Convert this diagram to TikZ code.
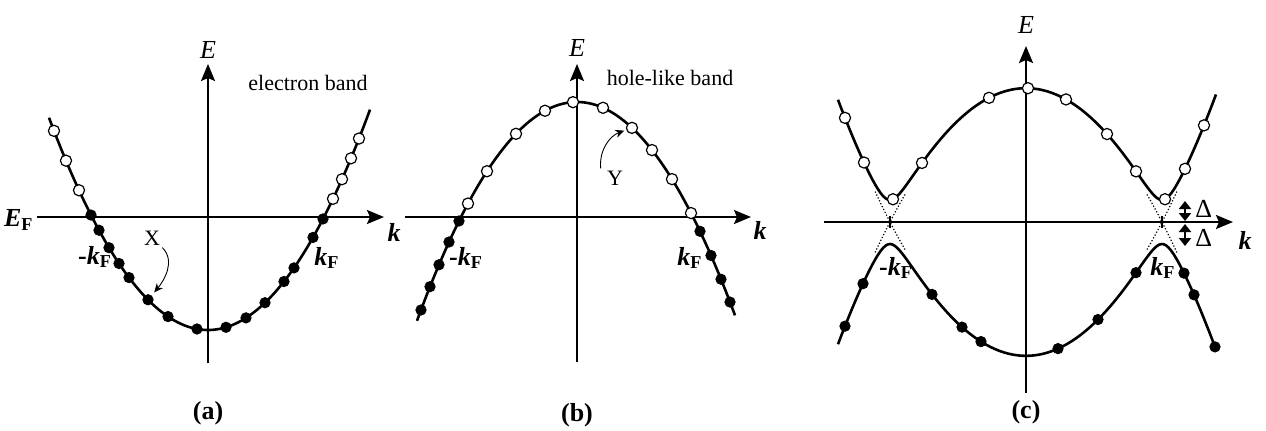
\documentclass[tikz,border=0pt]{standalone}
\usepackage{fontspec}
\setmainfont{Liberation Serif}
\usetikzlibrary{arrows.meta,positioning,calc}
\tikzset{
  kaxis/.style   = {line width=1.1pt, -{Stealth[length=8.5pt,width=7pt,inset=1.5pt]}},
  eband/.style   = {line width=1.3pt, smooth, samples=160},
  bare/.style    = {line width=0.6pt, densely dotted},
  filled/.style  = {draw, fill, circle, inner sep=0pt, minimum size=5.2pt},
  hollow/.style  = {draw, fill=white, circle, inner sep=0pt, minimum size=5.6pt, line width=0.6pt},
  pointer/.style = {line width=0.45pt, -{Stealth[length=4.5pt,width=4pt]}},
  gaparrow/.style= {line width=1pt, {Triangle[length=4pt,width=6pt]}-{Triangle[length=4pt,width=6pt]}},
  lbl/.style     = {font=\fontsize{11}{13}\selectfont, inner sep=1pt},
  big/.style     = {font=\fontsize{13}{15}\selectfont, inner sep=1pt},
}
\newcommand{\kF}{\textbf{\textit{k}}\textsubscript{\textbf{F}}}

\begin{document}
\begin{tikzpicture}[x=0.5pt,y=-0.5pt]
\useasboundingbox (0,0) rectangle (1266,430);

% (a) electron band
\coordinate (a-l) at (37,217); \coordinate (a-r) at (384,217);
\coordinate (a-b) at (208,363); \coordinate (a-t) at (208,64);
\draw[kaxis] (a-l) -- (a-r);
\draw[kaxis] (a-b) -- (a-t);
\draw[eband] plot[domain=-159:162] ({208+\x},{330-113*(\x/116)^2});
\foreach \k [count=\i] in {-117,-109,-99,-89,-79,-60,-40,-11,18,38,57,76,86,105,115}
  \node[filled] (af\i) at ({208+\k},{330-113*(\k/116)^2}) {};
\foreach \k [count=\i] in {-154,-142,-129,125,134,143,151}
  \node[hollow] (ao\i) at ({208+\k},{330-113*(\k/116)^2}) {};
\node[big] (a-E) at (208,50) {\textit{E}};
\node[big,anchor=east] (a-EF) at (36,220) {\textbf{\textit{E}}\textsubscript{\textbf{F}}};
\node[big] (a-k) at (394,232) {\textbf{\textit{k}}};
\node[lbl] (a-name) at (308,83) {electron band};
\node[big] (a-mkF) at (95,257) {\textbf{-}\kF};
\node[big] (a-kF) at (327,258) {\kF};
\node[lbl] (X) at (152,238) {X};
\draw[pointer,shorten >=2pt] (X.south east) to[out=-45,in=50] (af6);
\node[big] (a-tag) at (208,413) {\textbf{(a)}};

% (b) hole-like band
\coordinate (b-l) at (405,217); \coordinate (b-r) at (751,217);
\coordinate (b-b) at (577,362); \coordinate (b-t) at (577,64);
\draw[kaxis] (b-l) -- (b-r);
\draw[kaxis] (b-b) -- (b-t);
\draw[eband] plot[domain=-160:158] ({577+\x},{102+115*(\x/116)^2});
\foreach \k [count=\i] in {-109,-90,-61,-32,-4,26,55,75,95,114}
  \node[hollow] (bo\i) at ({577+\k},{102+115*(\k/116)^2}) {};
\foreach \k [count=\i] in {-118,-128,-138,-147,-156,123,134,144,153}
  \node[filled] (bf\i) at ({577+\k},{102+115*(\k/116)^2}) {};
\node[big] (b-E) at (577,48) {\textit{E}};
\node[big] (b-k) at (760,230) {\textbf{\textit{k}}};
\node[lbl] (b-name) at (670,78) {hole-like band};
\node[big] (b-mkF) at (466,258) {\textbf{-}\kF};
\node[big] (b-kF) at (690,258) {\kF};
\node[lbl] (Y) at (615,178) {Y};
\draw[pointer,shorten >=1pt] ([xshift=-2pt]Y.north west) to[out=95,in=200] (bo7);
\node[big] (b-tag) at (577,415) {\textbf{(b)}};

% (c) gapped bands
\coordinate (c-l) at (824,222); \coordinate (c-r) at (1233,222);
\coordinate (c-b) at (1026,393); \coordinate (c-t) at (1026,46);
\draw[kaxis] (c-l) -- (c-r);
\draw[kaxis] (c-b) -- (c-t);
\draw[eband] plot[domain=-188:190] ({1026+\x},{222-10*sqrt((13.2*((\x/136)^2-1))^2+4.84)});
\draw[eband] plot[domain=-188:190] ({1026+\x},{222+10*sqrt((13.2*((\x/136)^2-1))^2+4.84)});
\foreach \s in {-1,1}
  \foreach \t in {-1,1}
    \draw[bare] plot[domain=121:151,samples=12] ({1026+\s*\x},{222+\t*132*((\x/136)^2-1)});
\draw[line width=0.8pt] (890,216) -- (890,228);
\draw[line width=0.8pt] (1162,216) -- (1162,228);
\foreach \k [count=\i] in {-181,-162,-133,-104,-37,2,40,81,110,139,159,178}
  \node[hollow] (co\i) at ({1026+\k},{222-10*sqrt((13.2*((\k/136)^2-1))^2+4.84)}) {};
\foreach \k [count=\i] in {-181,-163,-94,-64,-45,32,72,110,158,168,189}
  \node[filled] (cf\i) at ({1026+\k},{222+10*sqrt((13.2*((\k/136)^2-1))^2+4.84)}) {};
\coordinate (gap-t) at (1185,201); \coordinate (gap-m1) at (1185,221);
\coordinate (gap-m2) at (1185,224); \coordinate (gap-b) at (1185,246);
\draw[gaparrow] (gap-t) -- (gap-m1);
\draw[gaparrow] (gap-m2) -- (gap-b);
\node[big,anchor=west] (c-D1) at (1193,209) {Δ};
\node[big,anchor=west] (c-D2) at (1193,238) {Δ};
\node[big] (c-E) at (1026,25) {\textit{E}};
\node[big] (c-k) at (1245,240) {\textbf{\textit{k}}};
\node[big] (c-mkF) at (896,268) {\textbf{-}\kF};
\node[big] (c-kF) at (1163,268) {\kF};
\node[big] (c-tag) at (1026,412) {\textbf{(c)}};
\end{tikzpicture}
\end{document}
